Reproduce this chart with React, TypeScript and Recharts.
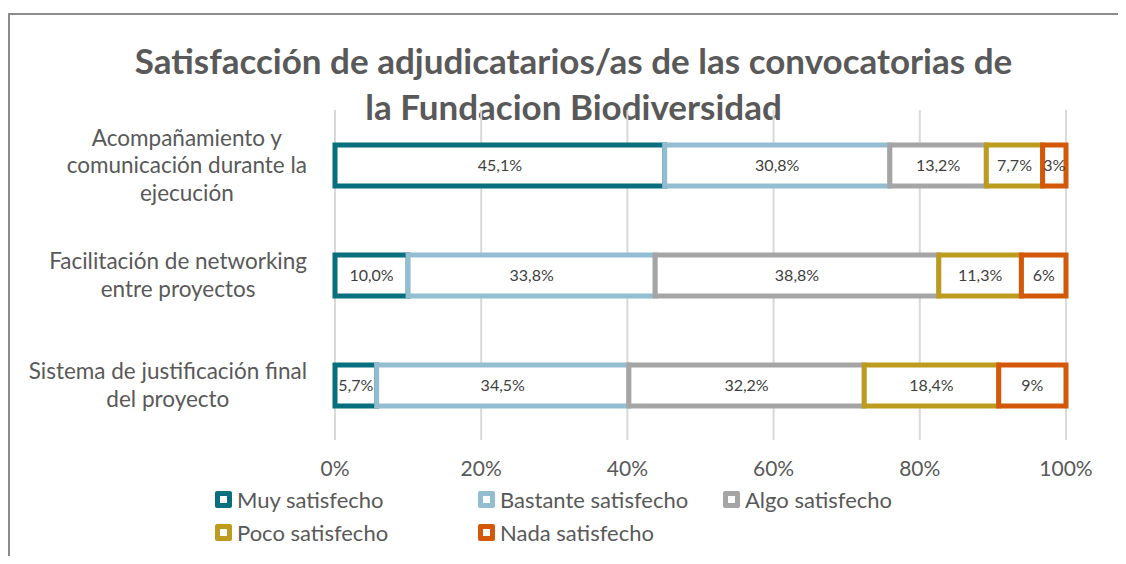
import React from 'react';
import { BarChart, Bar, XAxis, YAxis, CartesianGrid, Legend, LabelList } from 'recharts';

const categories = [
  'Acompañamiento y\ncomunicación durante la\nejecución',
  'Facilitación de networking\nentre proyectos',
  'Sistema de justificación final\ndel proyecto',
];
const seriesNames = ['Muy satisfecho', 'Bastante satisfecho', 'Algo satisfecho', 'Poco satisfecho', 'Nada satisfecho'];
const muy = [45.1, 10.0, 5.7];
const bastante = [30.8, 33.8, 34.5];
const algo = [13.2, 38.8, 32.2];
const poco = [7.7, 11.3, 18.4];
const nada = [3.2, 6.1, 9.2];
const xTicks = [0, 20, 40, 60, 80, 100];

const COLORS = ['#076f7d', '#93bdd0', '#a5a5a5', '#bd9b1e', '#d4580a'];
const KEYS = ['muy', 'bastante', 'algo', 'poco', 'nada'];
const DECIMALS = [1, 1, 1, 1, 0];

const TEXT = '#595959';
const FONT = 'Lato, "Open Sans", sans-serif';

const chartData = categories.map((name, i) => ({
  name,
  muy: muy[i],
  bastante: bastante[i],
  algo: algo[i],
  poco: poco[i],
  nada: nada[i],
}));

let measureCtx: CanvasRenderingContext2D | null = null;
const measure = (s: string, size: number) => {
  if (!measureCtx) measureCtx = document.createElement('canvas').getContext('2d');
  if (!measureCtx) return s.length * size * 0.5;
  measureCtx.font = `${size}px Lato`;
  return measureCtx.measureText(s).width;
};

const CategoryTick = ({ x, y, payload }: any) => {
  const lines = String(payload.value).split('\n');
  const size = 22.5;
  const lh = 27.5;
  const maxW = Math.max(...lines.map(l => measure(l, size)));
  const cx = x - maxW / 2;
  const startY = y - ((lines.length - 1) * lh) / 2;
  return (
    <text x={cx} y={startY} textAnchor="middle" fill={TEXT} fontSize={size} fontFamily={FONT}>
      {lines.map((l, i) => (
        <tspan key={i} x={cx} y={startY + i * lh} dy="0.36em">{l}</tspan>
      ))}
    </text>
  );
};

const LegendContent = () => {
  const cols = ['263px', '245px', 'auto'];
  return (
    <div style={{ display: 'grid', gridTemplateColumns: cols.join(' '), rowGap: 10, fontFamily: FONT, fontSize: 22, color: TEXT }}>
      {seriesNames.map((n, i) => (
        <div key={n} style={{ display: 'flex', alignItems: 'center', height: 23 }}>
          <span style={{ width: 7, height: 7, border: `5px solid ${COLORS[i]}`, borderRadius: 2, background: '#fff', marginRight: 5 }} />
          <span>{n}</span>
        </div>
      ))}
    </div>
  );
};

const formatLabel = (d: number) => (v: any) =>
  `${Number(v).toFixed(d).replace('.', ',')}%`;

export default function App() {
  return (
    <div style={{ position: 'relative', width: 1110, height: 548 }}>
      <div style={{ position: 'absolute', top: 5, left: 0, right: -8, bottom: 0, borderTop: '2px solid #8c8c8c', borderLeft: '2px solid #8c8c8c' }} />
      <div style={{ position: 'absolute', top: 29, left: 0, width: 1131, textAlign: 'center', fontFamily: FONT, fontWeight: 700, fontSize: 35, lineHeight: '46px', color: TEXT }}>
        Satisfacción de adjudicatarios/as de las convocatorias de<br />la Fundacion Biodiversidad
      </div>
      <div style={{ position: 'absolute', top: 0, left: 0 }}>
        <BarChart width={1110} height={548} data={chartData} layout="vertical" barSize={41}
          margin={{ top: 102, right: 52, bottom: 86, left: 0 }}>
          <CartesianGrid horizontal={false} stroke="#d9d9d9" strokeWidth={2} />
          <XAxis type="number" domain={[0, 100]} ticks={xTicks} tickFormatter={(v) => `${v}%`}
            axisLine={false} tickLine={false} tickSize={0} tickMargin={21} height={30}
            tick={{ fill: TEXT, fontSize: 21, fontFamily: FONT }} />
          <YAxis type="category" dataKey="name" width={327} axisLine={false} tickLine={false}
            tickSize={0} tickMargin={28} tick={<CategoryTick />} interval={0} />
          <Legend layout="vertical" align="center" verticalAlign="middle" content={<LegendContent />}
            wrapperStyle={{ left: 207, top: 480, width: 800, height: 70 }} />
          {KEYS.map((k, i) => (
            <Bar key={k} dataKey={k} name={seriesNames[i]} stackId="s" fill="#ffffff" stroke={COLORS[i]}
              strokeWidth={5} isAnimationActive={false}>
              <LabelList dataKey={k} position="center" formatter={formatLabel(DECIMALS[i])}
                fill="#404040" fontSize={16} fontFamily={FONT} />
            </Bar>
          ))}
        </BarChart>
      </div>
    </div>
  );
}
